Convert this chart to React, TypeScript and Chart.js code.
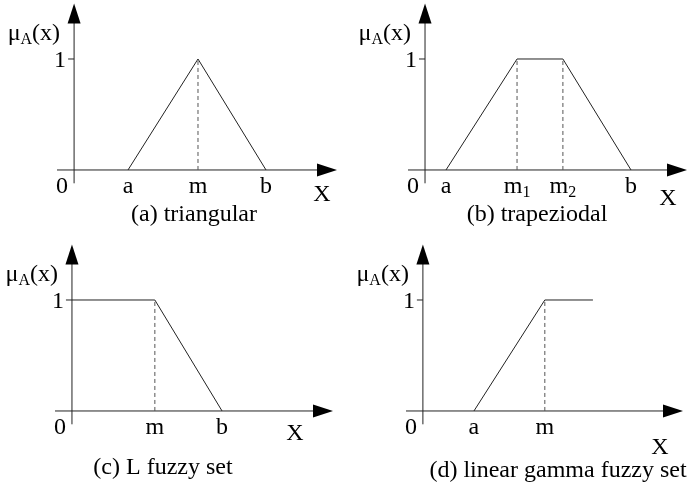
import React, { useEffect, useRef } from 'react';
import { Chart, registerables } from 'chart.js';
Chart.register(...registerables);

const W = 692;
const H = 486;
const FONT = '"Liberation Serif", "Times New Roman", serif';

// (a) triangular: points a, m, b
const triangularX = [1.64, 3.77, 5.84];
const triangularY = [0, 1, 0];
const triangularTickX = [1.64, 3.77, 5.84];
const triangularTicks = ['a', 'm', 'b'];
const triangularDashX = [3.77];

// (b) trapezoidal: a, m1, m2, b
const trapezoidX = [0.64, 2.81, 4.21, 6.29];
const trapezoidY = [0, 1, 1, 0];
const trapezoidTickX = [0.64, 2.81, 4.21, 6.29];
const trapezoidTicks = ['a', 'm_1', 'm_2', 'b'];
const trapezoidDashX = [2.81, 4.21];

// (c) L fuzzy set
const lSetX = [0, 2.54, 4.6];
const lSetY = [1, 1, 0];
const lSetTickX = [2.54, 4.6];
const lSetTicks = ['m', 'b'];
const lSetDashX = [2.54];

// (d) linear gamma fuzzy set
const gammaX = [1.57, 3.75, 5.23];
const gammaY = [0, 1, 1];
const gammaTickX = [1.57, 3.75];
const gammaTicks = ['a', 'm'];
const gammaDashX = [3.75];

const X_MIN = -0.52;
const X_MAX = 8;
const Y_MIN = -0.12;
const Y_MAX = 1.5;

type Panel = {
  xs: number[];
  ys: number[];
  tickX: number[];
  ticks: string[];
  dashX: number[];
  caption: string;
  area: { left: number; right: number; top: number; bottom: number };
  xLabel: { dx: number; dy: number };
  captionPos: { x: number; y: number };
};

const panels: Panel[] = [
  {
    xs: triangularX, ys: triangularY, tickX: triangularTickX, ticks: triangularTicks,
    dashX: triangularDashX, caption: '(a) triangular',
    area: { left: 57, right: 337, top: 3.5, bottom: 183.3 },
    xLabel: { dx: -15, dy: 31 }, captionPos: { x: 194, y: 221 },
  },
  {
    xs: trapezoidX, ys: trapezoidY, tickX: trapezoidTickX, ticks: trapezoidTicks,
    dashX: trapezoidDashX, caption: '(b) trapeziodal',
    area: { left: 408, right: 687, top: 3.5, bottom: 183.3 },
    xLabel: { dx: -19, dy: 35 }, captionPos: { x: 537, y: 221 },
  },
  {
    xs: lSetX, ys: lSetY, tickX: lSetTickX, ticks: lSetTicks,
    dashX: lSetDashX, caption: '(c) L fuzzy set',
    area: { left: 55, right: 333, top: 244.5, bottom: 424.3 },
    xLabel: { dx: -38, dy: 29 }, captionPos: { x: 163, y: 474 },
  },
  {
    xs: gammaX, ys: gammaY, tickX: gammaTickX, ticks: gammaTicks,
    dashX: gammaDashX, caption: '(d) linear gamma fuzzy set',
    area: { left: 406, right: 683, top: 244.5, bottom: 424.3 },
    xLabel: { dx: -23, dy: 43 }, captionPos: { x: 558, y: 477 },
  },
];

type Part = { t: string; size: number; dy: number };

function drawParts(ctx: CanvasRenderingContext2D, parts: Part[], x: number, y: number, align: 'left' | 'center' | 'right') {
  let total = 0;
  const widths = parts.map((p) => {
    ctx.font = `${p.size}px ${FONT}`;
    const w = ctx.measureText(p.t).width;
    total += w;
    return w;
  });
  let cx = align === 'left' ? x : align === 'center' ? x - total / 2 : x - total;
  ctx.textAlign = 'left';
  ctx.textBaseline = 'alphabetic';
  parts.forEach((p, i) => {
    ctx.font = `${p.size}px ${FONT}`;
    ctx.fillText(p.t, cx, y + p.dy);
    cx += widths[i];
  });
}

function labelParts(s: string): Part[] {
  const [base, sub] = s.split('_');
  const parts: Part[] = [{ t: base, size: 24, dy: 0 }];
  if (sub) parts.push({ t: sub, size: 16, dy: 4 });
  return parts;
}

function makePlugin(panel: Panel) {
  return {
    id: 'fuzzyAxes',
    beforeDatasetsDraw(chart: any) {
      const ctx: CanvasRenderingContext2D = chart.ctx;
      const sx = chart.scales.x;
      const sy = chart.scales.y;
      const x0 = sx.getPixelForValue(0);
      const y0 = sy.getPixelForValue(0);
      const y1 = sy.getPixelForValue(1);
      const xStart = sx.getPixelForValue(X_MIN);
      const xTip = sx.getPixelForValue(X_MAX);
      const yBottom = sy.getPixelForValue(Y_MIN);
      const yTip = sy.getPixelForValue(Y_MAX);
      const aLen = 20;
      const aHalf = 6.5;
      ctx.save();
      ctx.strokeStyle = '#222';
      ctx.fillStyle = '#000';
      ctx.lineWidth = 1;
      // x axis
      ctx.beginPath();
      ctx.moveTo(xStart, y0);
      ctx.lineTo(xTip - aLen + 2, y0);
      ctx.stroke();
      ctx.beginPath();
      ctx.moveTo(xTip, y0);
      ctx.lineTo(xTip - aLen, y0 - aHalf);
      ctx.lineTo(xTip - aLen, y0 + aHalf);
      ctx.closePath();
      ctx.fill();
      // y axis
      ctx.beginPath();
      ctx.moveTo(x0, yBottom);
      ctx.lineTo(x0, yTip + aLen - 2);
      ctx.stroke();
      ctx.beginPath();
      ctx.moveTo(x0, yTip);
      ctx.lineTo(x0 - aHalf, yTip + aLen);
      ctx.lineTo(x0 + aHalf, yTip + aLen);
      ctx.closePath();
      ctx.fill();
      // tick at 1
      ctx.beginPath();
      ctx.moveTo(x0 - 6, y1);
      ctx.lineTo(x0, y1);
      ctx.stroke();
      ctx.restore();
    },
    afterDraw(chart: any) {
      const ctx: CanvasRenderingContext2D = chart.ctx;
      const sx = chart.scales.x;
      const sy = chart.scales.y;
      const x0 = sx.getPixelForValue(0);
      const y0 = sy.getPixelForValue(0);
      const y1 = sy.getPixelForValue(1);
      const xTip = sx.getPixelForValue(X_MAX);
      ctx.save();
      ctx.fillStyle = '#000';
      drawParts(ctx, [{ t: '1', size: 24, dy: 0 }], x0 - 8, y1 + 8, 'right');
      drawParts(ctx, [{ t: '0', size: 24, dy: 0 }], x0 - 12, y0 + 23, 'center');
      panel.tickX.forEach((v, i) => {
        drawParts(ctx, labelParts(panel.ticks[i]), sx.getPixelForValue(v), y0 + 23, 'center');
      });
      drawParts(
        ctx,
        [
          { t: 'μ', size: 24, dy: 0 },
          { t: 'A', size: 16, dy: 4 },
          { t: '(x)', size: 24, dy: 0 },
        ],
        x0 - 14,
        y1 - 19,
        'right'
      );
      drawParts(ctx, [{ t: 'X', size: 24, dy: 0 }], xTip + panel.xLabel.dx, y0 + panel.xLabel.dy, 'center');
      drawParts(ctx, [{ t: panel.caption, size: 24, dy: 0 }], panel.captionPos.x, panel.captionPos.y, 'center');
      ctx.restore();
    },
  };
}

function PanelChart({ panel }: { panel: Panel }) {
  const ref = useRef<HTMLCanvasElement>(null);
  useEffect(() => {
    if (!ref.current) return;
    const datasets: any[] = [
      {
        data: panel.xs.map((x, i) => ({ x, y: panel.ys[i] })),
        showLine: true,
        borderColor: '#222',
        borderWidth: 1,
        pointRadius: 0,
        fill: false,
        tension: 0,
      },
      ...panel.dashX.map((x) => ({
        data: [
          { x, y: 0 },
          { x, y: 1 },
        ],
        showLine: true,
        borderColor: '#555',
        borderWidth: 1,
        borderDash: [4, 3],
        pointRadius: 0,
        fill: false,
      })),
    ];
    const chart = new Chart(ref.current, {
      type: 'scatter',
      data: { datasets },
      options: {
        responsive: false,
        maintainAspectRatio: false,
        animation: false,
        events: [],
        layout: {
          padding: {
            left: panel.area.left,
            right: W - panel.area.right,
            top: panel.area.top,
            bottom: H - panel.area.bottom,
          },
        },
        plugins: { legend: { display: false }, tooltip: { enabled: false } },
        scales: {
          x: { type: 'linear', display: false, min: X_MIN, max: X_MAX },
          y: { type: 'linear', display: false, min: Y_MIN, max: Y_MAX },
        },
      },
      plugins: [makePlugin(panel)],
    } as any);
    return () => chart.destroy();
  }, [panel]);
  return (
    <canvas
      ref={ref}
      width={W}
      height={H}
      style={{ position: 'absolute', left: 0, top: 0, width: W, height: H }}
    />
  );
}

export default function App() {
  useEffect(() => {
    document.body.style.margin = '0';
  }, []);
  return (
    <div style={{ position: 'relative', width: W, height: H, background: '#fff', overflow: 'hidden' }}>
      {panels.map((p, i) => (
        <PanelChart key={i} panel={p} />
      ))}
    </div>
  );
}
